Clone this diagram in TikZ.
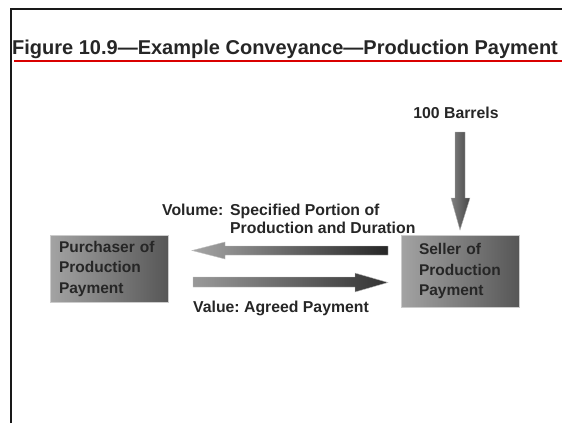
\documentclass[tikz,border=0pt]{standalone}
\usepackage{fontspec}
\setmainfont{Liberation Sans}
\frenchspacing
\begin{document}
\begin{tikzpicture}[x=1pt,y=-1pt,
  txt/.style={text=black!85, font=\bfseries\fontsize{15.8}{20}\selectfont, inner sep=0pt},
  party/.style={draw=black!20, line width=0.8pt, left color=black!36, right color=black!66,
     minimum width=118pt, align=left, inner sep=0pt,
     text=black!85, font=\bfseries\fontsize{15.5}{20.5}\selectfont}]
\useasboundingbox (0,0) rectangle (562,423);
% frame
\draw[line width=2pt, black!90] (11,423) -- (11,9) -- (563,9);
% title
\node[anchor=base west, inner sep=0pt, text=black!85, font=\bfseries\fontsize{20}{22}\selectfont] (title) at (12,54.5) {Figure 10.9---Example Conveyance---Production Payment};
\draw[red!85!black, line width=2.2pt] (14,61) -- (563,61);
% boxes
\node[party, minimum height=67pt, text width=100pt] (buyer) at (109,268.5) {Purchaser of\\Production\\Payment};
\node[party, minimum height=72pt, text width=82pt] (seller) at (460,271) {Seller of\\Production\\Payment};
% labels
\node[txt, anchor=base] (bbl) at (456,118) {100 Barrels};
\node[txt, anchor=base west] (vol) at (162,215) {Volume:};
\node[txt, anchor=base west] (vol1) at (230,215) {Specified Portion of};
\node[txt, anchor=base west] (vol2) at (230,233.5) {Production and Duration};
\node[txt, anchor=base west] (val) at (193,312.5) {Value: Agreed Payment};
% block arrows
\shade[left color=black!50, right color=black!72, draw=black!30, line width=0.4pt]
  (455,132) -- (465,132) -- (465,198) -- (470,198) -- (460,230) -- (451,198) -- (455,198) -- cycle;
\shade[left color=black!35, right color=black!85, draw=black!25, line width=0.4pt]
  (192,250.5) -- (225,242) -- (225,246) -- (388,246) -- (388,255) -- (225,255) -- (225,259) -- cycle;
\shade[left color=black!40, right color=black!80, draw=black!25, line width=0.4pt]
  (193,277) -- (355,277) -- (355,273) -- (388,282.5) -- (355,292) -- (355,287) -- (193,287) -- cycle;
\end{tikzpicture}
\end{document}
